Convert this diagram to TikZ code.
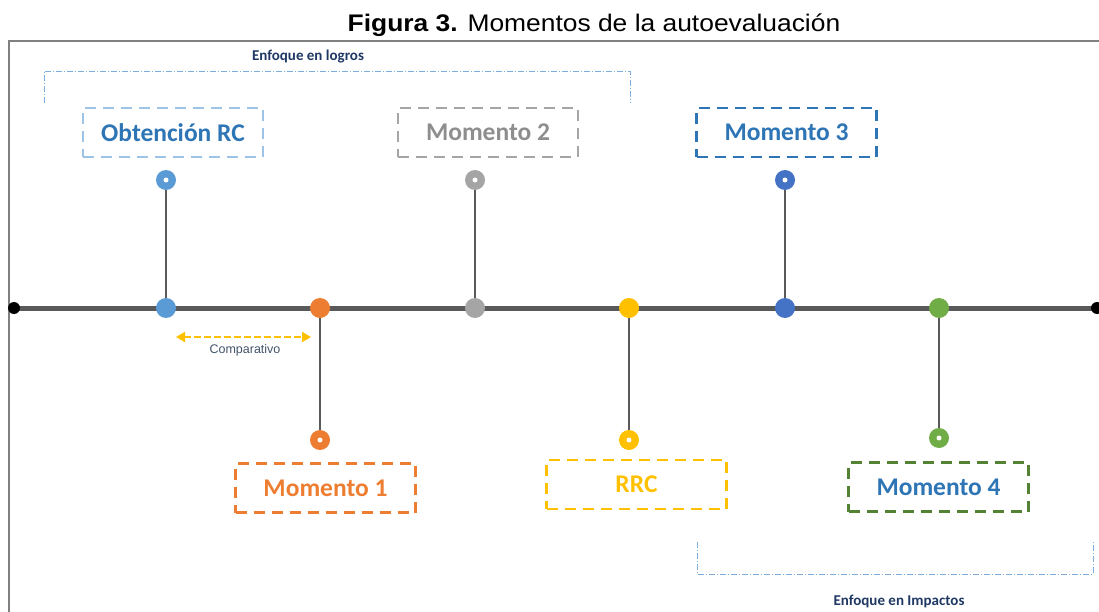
\documentclass[tikz,border=0pt]{standalone}
\usepackage{fontspec}
\setmainfont{Liberation Sans}
\newfontfamily\calibri{Carlito}
\usetikzlibrary{arrows.meta,backgrounds}
\definecolor{axisgray}{HTML}{595959}
\definecolor{framegray}{HTML}{808080}
\definecolor{navy}{HTML}{1F3864}
\definecolor{slate}{HTML}{44546A}
\definecolor{msblue}{HTML}{2E75B6}
\definecolor{lightblue}{HTML}{9DC3E6}
\definecolor{midblue}{HTML}{5B9BD5}
\definecolor{darkblue}{HTML}{4472C4}
\definecolor{msorange}{HTML}{ED7D31}
\definecolor{msgray}{HTML}{A5A5A5}
\definecolor{textgray}{HTML}{8E8E8E}
\definecolor{msyellow}{HTML}{FFC000}
\definecolor{msgreen}{HTML}{70AD47}
\definecolor{darkgreen}{HTML}{548235}
\tikzstyle{enddot}=[circle, fill=black, inner sep=0, minimum size=12pt]
\tikzstyle{tdot}=[circle, inner sep=0, minimum size=20pt]
\tikzstyle{pin}=[circle, inner sep=0, minimum size=20pt,
                 path picture={\fill[white] (path picture bounding box.center) circle (2.5pt);}]
\tikzstyle{stem}=[axisgray, line width=2pt]
\tikzstyle{momento}=[draw, line width=2.5pt, dash pattern=on 11pt off 7pt, inner sep=0,
                     minimum width=180pt, minimum height=49pt,
                     font=\calibri\bfseries\fontsize{25.5}{30}\selectfont]
\tikzstyle{focus}=[font=\calibri\bfseries\fontsize{15}{17}\selectfont, text=navy]
\tikzstyle{bracket}=[midblue!80, line width=0.9pt, dash pattern=on 6pt off 2pt on 1pt off 2pt]

\begin{document}
\begin{tikzpicture}[x=1pt, y=-1pt]
    \useasboundingbox (0,0) rectangle (1099,612);
    \draw[framegray, line width=2pt] (9,700) -- (9,41) -- (1200,41);
    \node[anchor=base, xscale=1.1, font=\fontsize{24}{28}\selectfont] (title) at (594,32) {\textbf{Figura 3.} Momentos de la autoevaluación};

    % timeline
    \node[enddot] (L) at (14,308) {};
    \node[enddot] (R) at (1097,308) {};
    \node[tdot, fill=midblue] (t1) at (166,308) {};
    \node[tdot, fill=msorange] (t2) at (320,308) {};
    \node[tdot, fill=msgray] (t3) at (475,308) {};
    \node[tdot, fill=msyellow] (t4) at (629,308) {};
    \node[tdot, fill=darkblue] (t5) at (785,308) {};
    \node[tdot, fill=msgreen] (t6) at (939,308) {};
    \begin{scope}[on background layer]
        \draw[axisgray, line width=5pt] (L.center) -- (R.center);
    \end{scope}

    % pins and boxes
    \node[pin, fill=midblue] (p1) at (166,180) {};
    \node[pin, fill=msorange] (p2) at (320,440) {};
    \node[pin, fill=msgray] (p3) at (475,180) {};
    \node[pin, fill=msyellow] (p4) at (629,440) {};
    \node[pin, fill=darkblue] (p5) at (785,180) {};
    \node[pin, fill=msgreen] (p6) at (939,438) {};
    \foreach \i in {1,...,6} {\draw[stem] (p\i) -- (t\i);}

    \node[momento, draw=lightblue, text=msblue] (m0) at (173,132.5) {Obtención RC};
    \node[momento, draw=msorange, text=msorange] (m1) at (325.5,488) {Momento 1};
    \node[momento, draw=msgray, text=textgray] (m2) at (488,132.5) {Momento 2};
    \node[momento, draw=msyellow, text=msyellow] (rrc) at (636.5,484.5) {RRC};
    \node[momento, draw=msblue, text=msblue] (m3) at (786.5,132.5) {Momento 3};
    \node[momento, draw=darkgreen, text=msblue] (m4) at (938.5,487) {Momento 4};

    % comparison arrow
    \coordinate (cmpL) at (176,337);
    \coordinate (cmpR) at (311,337);
    \draw[msyellow, line width=2.5pt, dash pattern=on 7pt off 3pt,
          {Triangle[length=9pt, width=10pt]}-{Triangle[length=9pt, width=10pt]}] (cmpL) -- (cmpR);
    \node[text=slate, font=\fontsize{12.5}{14}\selectfont] (cmp) at (245,350) {Comparativo};

    % focus brackets
    \draw[bracket] (44,103) -- (44,71) -- (630,71) -- (630,103);
    \node[focus] (logros) at (308,57) {Enfoque en logros};
    \draw[bracket] (697,542) -- (697,574) -- (1093,574) -- (1093,542);
    \node[focus] (impactos) at (899,601) {Enfoque en Impactos};
\end{tikzpicture}
\end{document}
